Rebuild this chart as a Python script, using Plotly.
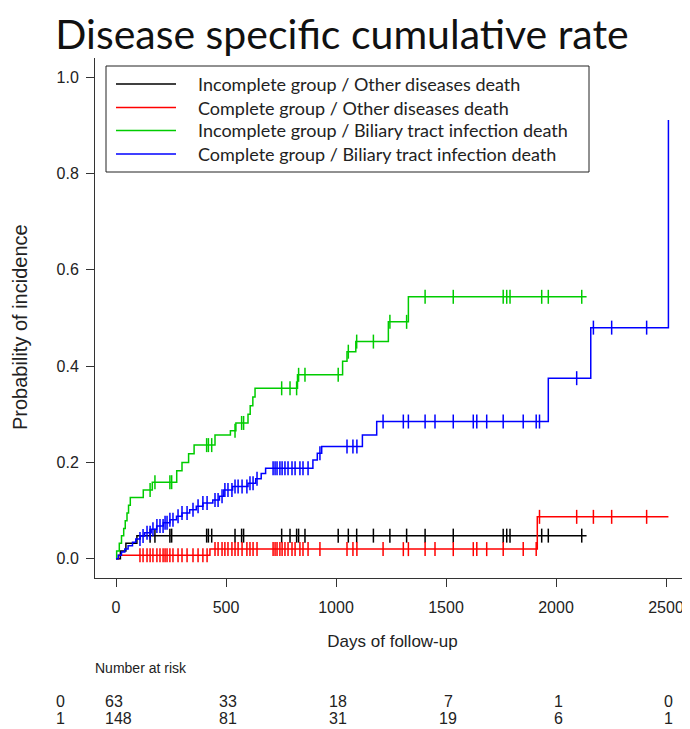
import numpy as np
import plotly.graph_objects as go

# ---------------- data ----------------
# step functions: day of step, cumulative incidence after the step
inc_other_t = [0, 20, 45, 95, 2139]
inc_other_p = [0, 0.016, 0.032, 0.048, 0.048]

comp_other_t = [0, 12, 427, 1915, 2511]
comp_other_p = [0, 0.007, 0.020, 0.087, 0.087]

inc_bil_t = [0, 3, 15, 25, 35, 42, 50, 57, 65, 124, 165, 276, 300, 330, 355,
             450, 520, 545, 600, 610, 622, 632, 825, 1030, 1050, 1090, 1238,
             1329, 2139]
inc_bil_p = [0, 0.016, 0.032, 0.048, 0.063, 0.079, 0.095, 0.111, 0.127, 0.143,
             0.159, 0.183, 0.200, 0.218, 0.236, 0.257, 0.266, 0.282, 0.300,
             0.318, 0.336, 0.354, 0.382, 0.410, 0.430, 0.451, 0.492, 0.544,
             0.544]

comp_bil_t = [0, 10, 25, 40, 55, 75, 90, 110, 130, 160, 185, 215, 245, 275,
              300, 335, 365, 395, 440, 470, 490, 530, 600, 635, 660, 680, 895,
              915, 935, 1120, 1185, 1965, 2158, 2511]
comp_bil_p = [0, 0.007, 0.014, 0.020, 0.027, 0.034, 0.041, 0.047, 0.054,
              0.061, 0.068, 0.075, 0.081, 0.088, 0.095, 0.102, 0.109, 0.116,
              0.122, 0.130, 0.143, 0.150, 0.157, 0.166, 0.177, 0.188, 0.205,
              0.219, 0.233, 0.257, 0.285, 0.375, 0.480, 0.911]

# censoring times (shared by both causes within a group)
inc_censor = [155, 177, 245, 253, 412, 420, 435, 541, 571, 580, 753, 791,
              821, 830, 859, 1010, 1056, 1094, 1170, 1245, 1321, 1405, 1533,
              1760, 1776, 1791, 1935, 1965, 2117]
comp_censor = [109, 123, 141, 155, 168, 186, 200, 214, 223, 232, 245, 259,
               282, 300, 323, 350, 373, 395, 414, 450, 464, 482, 495, 509,
               527, 541, 555, 573, 595, 609, 623, 641, 714, 723, 732, 745,
               755, 768, 782, 800, 814, 836, 850, 873, 927, 1050, 1077, 1095,
               1214, 1306, 1329, 1405, 1450, 1533, 1624, 1640, 1685, 1760,
               1851, 1910, 1925, 2094, 2170, 2253, 2412]

series_names = ["Incomplete group / Other diseases death",
                "Complete group / Other diseases death",
                "Incomplete group / Biliary tract infection death",
                "Complete group / Biliary tract infection death"]
series_colors = ["#000000", "#ff0000", "#00cc00", "#0000ff"]

risk_times = [0, 500, 1000, 1500, 2000, 2500]
risk_labels = ["0", "1"]
risk_group0 = [63, 33, 18, 7, 1, 0]
risk_group1 = [148, 81, 31, 19, 6, 1]

x_ticks = [0, 500, 1000, 1500, 2000, 2500]
y_ticks = [0.0, 0.2, 0.4, 0.6, 0.8, 1.0]

# ---------------- layout geometry ----------------
OFF = 8                      # page body margin offset
W, H = 690 - OFF, 729 - OFF
L, R, T = 95 - OFF, 0, 58 - OFF
B = H - (578 - OFF)
plot_w = W - L - R
plot_h = H - T - B
px_per_day = 0.22
x0 = -(116 - 95) / px_per_day
x1 = x0 + plot_w / px_per_day


def paper_x(px):
    return (px - OFF - L) / plot_w


def paper_y(py):
    return ((H - B) - (py - OFF)) / plot_h


fig = go.Figure()

curves = [(inc_other_t, inc_other_p, inc_censor),
          (comp_other_t, comp_other_p, comp_censor),
          (inc_bil_t, inc_bil_p, inc_censor),
          (comp_bil_t, comp_bil_p, comp_censor)]

for i, (t, p, cens) in enumerate(curves):
    fig.add_trace(go.Scatter(
        x=t, y=p, mode="lines",
        line=dict(color=series_colors[i], width=1.5, shape="hv"),
        name=series_names[i], showlegend=False))
    ta = np.array(t)
    pa = np.array(p)
    cx = [c for c in cens if c <= t[-1]]
    idx = np.searchsorted(ta, cx, side="right") - 1
    cy = pa[idx]
    fig.add_trace(go.Scatter(
        x=cx, y=cy, mode="markers", name=series_names[i] + " (censored)",
        marker=dict(symbol="line-ns", size=10,
                    line=dict(color=series_colors[i], width=1.5)),
        showlegend=False, hoverinfo="skip"))

SANS = "Liberation Sans, Arial, sans-serif"
LEG = "Lato, Open Sans, sans-serif"
tick_font = dict(family=SANS, size=16, color="#222222")

fig.update_xaxes(range=[x0, x1], tickvals=x_ticks, ticks="outside",
                 ticklen=8, tickcolor="#333333", showline=True,
                 linecolor="#333333", linewidth=1, showgrid=False,
                 zeroline=False, tickfont=tick_font, ticklabelstandoff=7,
                 automargin=False,
                 title=dict(text="Days of follow-up", standoff=19,
                            font=dict(family=SANS, size=17, color="#222222")))
fig.update_yaxes(range=[-0.04, 1.04], tickvals=y_ticks, tickformat=".1f",
                 ticks="outside", ticklen=8, tickcolor="#333333",
                 showline=True, linecolor="#333333", linewidth=1,
                 showgrid=False, zeroline=False, tickfont=tick_font,
                 ticklabelstandoff=4, automargin=False)

ann = []
shapes = []

# y-axis title
ann.append(dict(text="Probability of incidence", x=paper_x(20), xref="paper",
                y=paper_y(327), yref="paper", textangle=-90, showarrow=False,
                xanchor="center", yanchor="middle",
                font=dict(family=SANS, size=20, color="#222222")))

# legend (R style: long line samples in a framed box)
shapes.append(dict(type="rect", xref="paper", yref="paper",
                   x0=paper_x(106), x1=paper_x(589),
                   y0=paper_y(66), y1=paper_y(172),
                   line=dict(color="#222222", width=1), fillcolor="white",
                   layer="above"))
leg_rows = [84, 107.5, 130.5, 154]
for i, ry in enumerate(leg_rows):
    shapes.append(dict(type="line", xref="paper", yref="paper",
                       x0=paper_x(116), x1=paper_x(176),
                       y0=paper_y(ry), y1=paper_y(ry),
                       line=dict(color=series_colors[i], width=1.5),
                       layer="above"))
    ann.append(dict(text=series_names[i], x=paper_x(196), xref="paper",
                    y=paper_y(ry), yref="paper", xanchor="left",
                    yanchor="middle", showarrow=False,
                    font=dict(family=LEG, size=18, color="#222222")))

# number-at-risk table
risk_font = dict(family=SANS, size=16, color="#222222")
ann.append(dict(text="Number at risk", x=paper_x(93), xref="paper",
                y=paper_y(668), yref="paper", xanchor="left",
                yanchor="middle", showarrow=False,
                font=dict(family=SANS, size=14, color="#222222")))
risk_rows_y = [701, 718]
for row, (lab, vals) in enumerate(zip(risk_labels, [risk_group0, risk_group1])):
    yp = paper_y(risk_rows_y[row])
    ann.append(dict(text=lab, x=paper_x(60), xref="paper", y=yp,
                    yref="paper", showarrow=False, xanchor="center",
                    yanchor="middle", font=risk_font))
    for tt, v in zip(risk_times, vals):
        first = (tt == risk_times[0])
        ann.append(dict(text=str(v), x=tt, xref="x", y=yp, yref="paper",
                        showarrow=False,
                        xanchor="left" if first else "center",
                        yanchor="middle",
                        xshift=-13 if first else 2, font=risk_font))

fig.update_layout(
    width=W, height=H,
    margin=dict(l=L, r=R, t=T, b=B),
    paper_bgcolor="white", plot_bgcolor="white",
    title=dict(text="Disease specific cumulative rate",
               x=(342 - OFF) / W, xanchor="center",
               y=1 - (35 - OFF) / H, yanchor="middle",
               font=dict(family=LEG, size=41, color="#111111")),
    annotations=ann,
    shapes=shapes,
    showlegend=False,
)

fig.write_html("out.html")
